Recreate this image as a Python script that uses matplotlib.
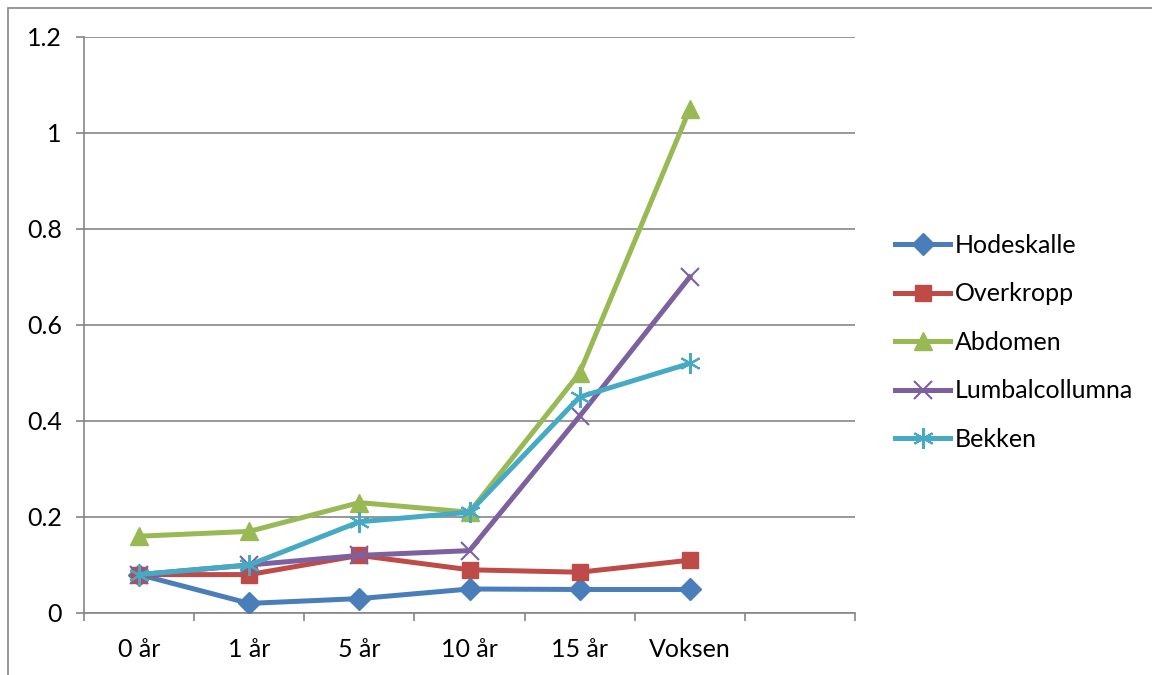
import matplotlib
matplotlib.use("Agg")
import matplotlib.pyplot as plt
from matplotlib.patches import Rectangle

plt.rcParams['font.family'] = ['Lato', 'DejaVu Sans']

categories = ["0 år", "1 år", "5 år", "10 år", "15 år", "Voksen"]
series_names = ["Hodeskalle", "Overkropp", "Abdomen", "Lumbalcollumna", "Bekken"]
hodeskalle = [0.08, 0.02, 0.03, 0.05, 0.049, 0.049]
overkropp = [0.08, 0.08, 0.12, 0.09, 0.085, 0.11]
abdomen = [0.16, 0.17, 0.23, 0.21, 0.50, 1.05]
lumbalcollumna = [0.08, 0.10, 0.12, 0.13, 0.41, 0.70]
bekken = [0.08, 0.10, 0.19, 0.21, 0.45, 0.52]
y_ticks = [0, 0.2, 0.4, 0.6, 0.8, 1, 1.2]
y_tick_labels = ["0", "0.2", "0.4", "0.6", "0.8", "1", "1.2"]

colors = ["#4A7EBB", "#BE4B48", "#98B954", "#7D60A0", "#46AAC5"]
markers = ["D", "s", "^", "x", (6, 2, 0)]
msizes = [11, 12, 13, 13, 15]
values = [hodeskalle, overkropp, abdomen, lumbalcollumna, bekken]

FS = 18

fig = plt.figure(figsize=(11.52, 6.75), dpi=100)
ax = fig.add_axes([84 / 1152, 62 / 675, 771 / 1152, 576 / 675])

x = list(range(len(categories)))
for name, vals, c, m, ms in zip(series_names, values, colors, markers, msizes):
    mew = 1.5 if m in ("x",) or isinstance(m, tuple) else 1
    ax.plot(x, vals, color=c, lw=3.6, marker=m, markersize=ms,
            markeredgewidth=mew, markeredgecolor=c, markerfacecolor=c,
            label=name, solid_joinstyle="round", zorder=3)

n_slots = len(categories) + 1
ax.set_xlim(-0.5, n_slots - 0.5)
ax.set_ylim(0, 1.2)
ax.set_xticks([i - 0.5 for i in range(n_slots + 1)])
ax.set_xticklabels([])
ax.set_xticks(x, minor=True)
ax.set_xticklabels(categories, minor=True)
ax.tick_params(axis="x", which="minor", length=0, pad=18, labelsize=FS)
ax.tick_params(axis="x", which="major", length=6, width=1.2, color="#868686")
ax.set_yticks(y_ticks)
ax.set_yticklabels(y_tick_labels)
ax.tick_params(axis="y", length=6, width=1.2, color="#868686", pad=10, labelsize=FS)
ax.grid(axis="y", color="#868686", lw=1.2, zorder=0)
for s in ("top", "right"):
    ax.spines[s].set_visible(False)
for s in ("left", "bottom"):
    ax.spines[s].set_color("#868686")
    ax.spines[s].set_linewidth(1.2)

ax.legend(loc="center left", bbox_to_anchor=(1.039, 0.47), frameon=False,
          fontsize=FS, handlelength=2.2, handletextpad=0.2, labelspacing=1.02,
          borderaxespad=0)

fig.add_artist(Rectangle((8 / 1152, -0.1), 1.2, (667 / 675) + 0.1,
                         transform=fig.transFigure, fill=False,
                         edgecolor="#868686", lw=1.2))

fig.savefig("out.png", dpi=100)
